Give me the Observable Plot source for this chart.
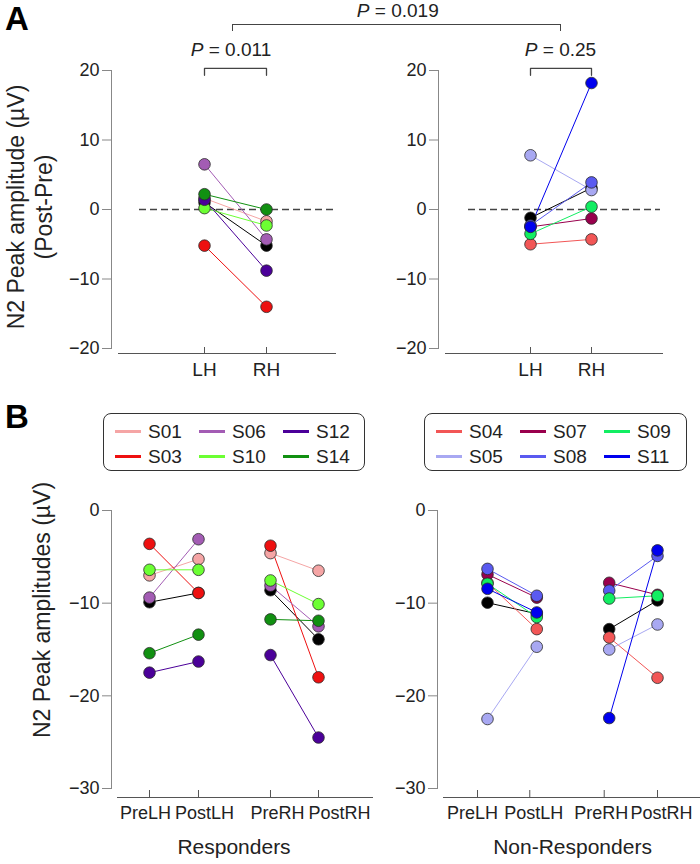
<!DOCTYPE html>
<html><head><meta charset="utf-8">
<script src="https://cdn.jsdelivr.net/npm/d3@7"></script>
<script src="https://cdn.jsdelivr.net/npm/@observablehq/plot@0.6"></script>
<style>
body{margin:0;background:#fff;font-family:"Liberation Sans",Arial,sans-serif;color:#222;}
#fig{position:relative;width:700px;height:864px;overflow:hidden;background:#fff;}
.abs{position:absolute;}
.panel{font-family:"Liberation Sans Narrow","Liberation Sans",Arial,sans-serif;font-weight:bold;font-size:33px;line-height:38px;color:#000;}
.ptxt{font-size:19px;line-height:22px;white-space:nowrap;transform:translateX(-50%);}
.ytitle{font-size:23px;line-height:28px;white-space:nowrap;text-align:center;transform:translate(-50%,-50%) rotate(-90deg);}
.legend{border:1.3px solid #333;border-radius:8px;box-sizing:border-box;display:grid;grid-auto-flow:column;grid-template-rows:25px 25px;grid-template-columns:repeat(3,84px);padding:5px 0 0 11px;}
.legend .item{display:flex;align-items:center;font-size:19px;}
.legend .sw{display:inline-block;width:26px;height:3px;margin-right:7px;}
.bracket{border:1.3px solid #444;border-bottom:none;box-sizing:border-box;}
</style></head>
<body><div id="fig"></div>
<script>
// ---------- DATA ----------
// Responders ("Sx" = unlabeled subject drawn in black)
const respSubjects = ["Sx","S01","S03","S06","S10","S12","S14"];
const respColors   = ["#000000","#f5a5a5","#ee1010","#a35cb4","#6cff33","#4b0099","#119011"];
const respInLegend = [false,true,true,true,true,true,true];
const respDiffLH   = [1.0, 1.6, -5.2, 6.5, 0.2, 1.4, 2.2];
const respDiffRH   = [-5.2, -1.7, -14.0, -4.3, -2.3, -8.8, 0.0];
const respPreLH    = [-9.9, -7.0, -3.6, -9.4, -6.4, -17.5, -15.4];
const respPostLH   = [-8.9, -5.25, -8.9, -3.1, -6.4, -16.3, -13.4];
const respPreRH    = [-8.6, -4.6, -3.8, -8.1, -7.55, -15.6, -11.75];
const respPostRH   = [-13.9, -6.5, -18.0, -12.5, -10.1, -24.5, -11.9];

// Non-responders
const nonSubjects = ["Sy","S04","S05","S07","S08","S09","S11"];
const nonColors   = ["#000000","#f25656","#a8a8f2","#99004d","#5a5af0","#12ee62","#0000ee"];
const nonInLegend = [false,true,true,true,true,true,true];
const nonDiffLH   = [-1.2, -5.0, 7.8, -2.5, -2.3, -3.5, -2.5];
const nonDiffRH   = [3.1, -4.3, 2.8, -1.3, 3.9, 0.4, 18.2];
const nonPreLH    = [-9.95, -7.8, -22.5, -6.9, -6.3, -7.9, -8.45];
const nonPostLH   = [-11.15, -12.8, -14.7, -9.4, -9.2, -11.5, -11.0];
const nonPreRH    = [-12.8, -13.7, -15.0, -7.8, -8.65, -9.5, -22.4];
const nonPostRH   = [-9.7, -18.05, -12.3, -9.1, -4.9, -9.2, -4.3];

const hemis = ["LH","RH"];
const conds = ["PreLH","PostLH","PreRH","PostRH"];
const diffTicks = [-20,-10,0,10,20];
const rawTicks = [0,-10,-20,-30];
const pDiff = [{label:"0.011"},{label:"0.25"}];
const pBetween = "0.019";
const groupTitles = ["Responders","Non-Responders"];

// ---------- LAYOUT ----------
const fig = document.getElementById("fig");
function place(el, left, top){ el.style.position="absolute"; el.style.left=left+"px"; el.style.top=top+"px"; fig.appendChild(el); return el; }
function div(cls, html){ const d=document.createElement("div"); d.className=cls; d.innerHTML=html; return d; }
const baseStyle = {background:"transparent", fontFamily:"'Liberation Sans', Arial, sans-serif", fontSize:"18px", color:"#222", overflow:"visible"};
const condSlot = [0, 1, 2.47, 3.45]; // horizontal slots, gap between hemispheres

function diffPlot(subjects, colors, lh, rh, o){
  const rows = subjects.flatMap((s,i)=>[{s,h:"LH",v:lh[i]},{s,h:"RH",v:rh[i]}]);
  const top = diffTicks[diffTicks.length-1];
  const bracket = [{h:"LH",y:top-0.7},{h:"LH",y:top+0.3},{h:"RH",y:top+0.3},{h:"RH",y:top-0.7}];
  return Plot.plot({
    width:o.width, height:390, marginLeft:o.ml, marginRight:o.mr, marginTop:70, marginBottom:37,
    style:baseStyle,
    x:{type:"point", domain:hemis, range:o.xr},
    y:{domain:[-20,20], range:[348,70]},
    color:{domain:subjects, range:colors},
    marks:[
      Plot.frame({anchor:"left", insetBottom:5, stroke:"#888"}),
      Plot.frame({anchor:"bottom", insetLeft:7, stroke:"#555"}),
      Plot.axisY({ticks:diffTicks, tickSize:9, tickPadding:3, stroke:"#888", fill:"#222", label:null}),
      Plot.axisX({tickSize:-6, tickPadding:15, fontSize:19, stroke:"#555", fill:"#222", label:null}),
      Plot.ruleY([0], {stroke:"#444", strokeWidth:1.3, strokeDasharray:"7,4", insetLeft:o.dashL, insetRight:2}),
      Plot.line(bracket, {x:"h", y:"y", stroke:"#444", strokeWidth:1.3}),
      Plot.line(rows, {x:"h", y:"v", z:"s", stroke:"s", strokeWidth:1}),
      Plot.dot(rows, {x:"h", y:"v", fill:"s", stroke:"#2a2a2a", strokeWidth:0.8, r:5.8})
    ]
  });
}

function rawPlot(subjects, colors, series, title, o){
  const rows = subjects.flatMap((s,i)=>conds.map((c,j)=>({s, c, hemi:c.slice(-2), x:condSlot[j], v:series[j][i]})));
  const mid = (condSlot[0]+condSlot[3])/2;
  const tickMarks = condSlot.map((slot,j)=>Plot.axisX({ticks:[slot], tickFormat:()=> "", tickSize:-7, dx:o.tickDx[j], stroke:"#555", label:null}));
  const labelMarks = condSlot.map((slot,j)=>Plot.text([conds[j]], {x:()=>slot, text:d=>d, frameAnchor:"bottom", dy:21, dx:o.labelDx[j], fontSize:18, fill:"#222"}));
  return Plot.plot({
    width:o.width, height:384, marginLeft:o.ml, marginRight:o.mr, marginTop:30, marginBottom:67,
    style:baseStyle,
    x:{domain:[condSlot[0],condSlot[3]], range:o.xr},
    y:{domain:[-30,0], range:[308,30]},
    color:{domain:subjects, range:colors},
    marks:[
      Plot.frame({anchor:"left", insetBottom:9, stroke:"#888"}),
      Plot.frame({anchor:"bottom", insetLeft:6, stroke:"#555"}),
      Plot.axisY({ticks:rawTicks, tickSize:9, tickPadding:3, stroke:"#888", fill:"#222", label:null}),
      ...tickMarks,
      ...labelMarks,
      Plot.line(rows, {x:"x", y:"v", z:d=>d.s+d.hemi, stroke:"s", strokeWidth:1}),
      Plot.dot(rows, {x:"x", y:"v", fill:"s", stroke:"#2a2a2a", strokeWidth:0.8, r:5.8}),
      Plot.text([title], {x:()=>mid, text:d=>d, frameAnchor:"bottom", dy:56, fontSize:21, fill:"#222"})
    ]
  });
}

// Panel A
const aL = {width:345, ml:111, mr:10, xr:[173,297], dashL:28};
const aR = {width:355, ml:93, mr:38, xr:[154,277], dashL:30};
place(diffPlot(respSubjects, respColors, respDiffLH, respDiffRH, aL), 0, 0);
place(diffPlot(nonSubjects, nonColors, nonDiffLH, nonDiffRH, aR), 345, 0);

// Panel B
const bL = {width:375, ml:111, mr:3, xr:[149,318], tickDx:[0,0,0,0], labelDx:[-4,6,7,21]};
const bR = {width:325, ml:62, mr:0, xr:[112,282], tickDx:[-10,-7,-5,0], labelDx:[-15,-3,-8,4]};
place(rawPlot(respSubjects, respColors, [respPreLH,respPostLH,respPreRH,respPostRH], groupTitles[0], bL), 0, 480);
place(rawPlot(nonSubjects, nonColors, [nonPreLH,nonPostLH,nonPreRH,nonPostRH], groupTitles[1], bR), 375, 480);

// P-value annotations
const midL = (aL.xr[0]+aL.xr[1])/2, midR = 345 + (aR.xr[0]+aR.xr[1])/2;
place(div("ptxt", `<i>P</i> = ${pDiff[0].label}`), midL-4, 39);
place(div("ptxt", `<i>P</i> = ${pDiff[1].label}`), midR, 39);
const br = place(div("bracket",""), midL-3, 24); br.style.width=(midR-midL+3)+"px"; br.style.height="7px";
place(div("ptxt", `<i>P</i> = ${pBetween}`), (midL+midR)/2, 0);

// Panel letters & axis titles
place(div("panel","A"), 5, 0);
place(div("panel","B"), 5, 398);
place(div("ytitle","N2 Peak amplitude (µV)<br>(Post-Pre)"), 30, 207);
place(div("ytitle","N2 Peak amplitudes (µV)"), 42, 610);

// Legends
function legend(subjects, colors, inLegend){
  const d = div("legend abs","");
  subjects.forEach((s,i)=>{ if(!inLegend[i]) return;
    d.appendChild(div("item", `<span class="sw" style="background:${colors[i]}"></span>${s}`)); });
  return d;
}
const lg1 = place(legend(respSubjects, respColors, respInLegend), 103, 413); lg1.style.width="262px"; lg1.style.height="58px";
const lg2 = place(legend(nonSubjects, nonColors, nonInLegend), 424, 413); lg2.style.width="263px"; lg2.style.height="58px";
</script></body></html>
